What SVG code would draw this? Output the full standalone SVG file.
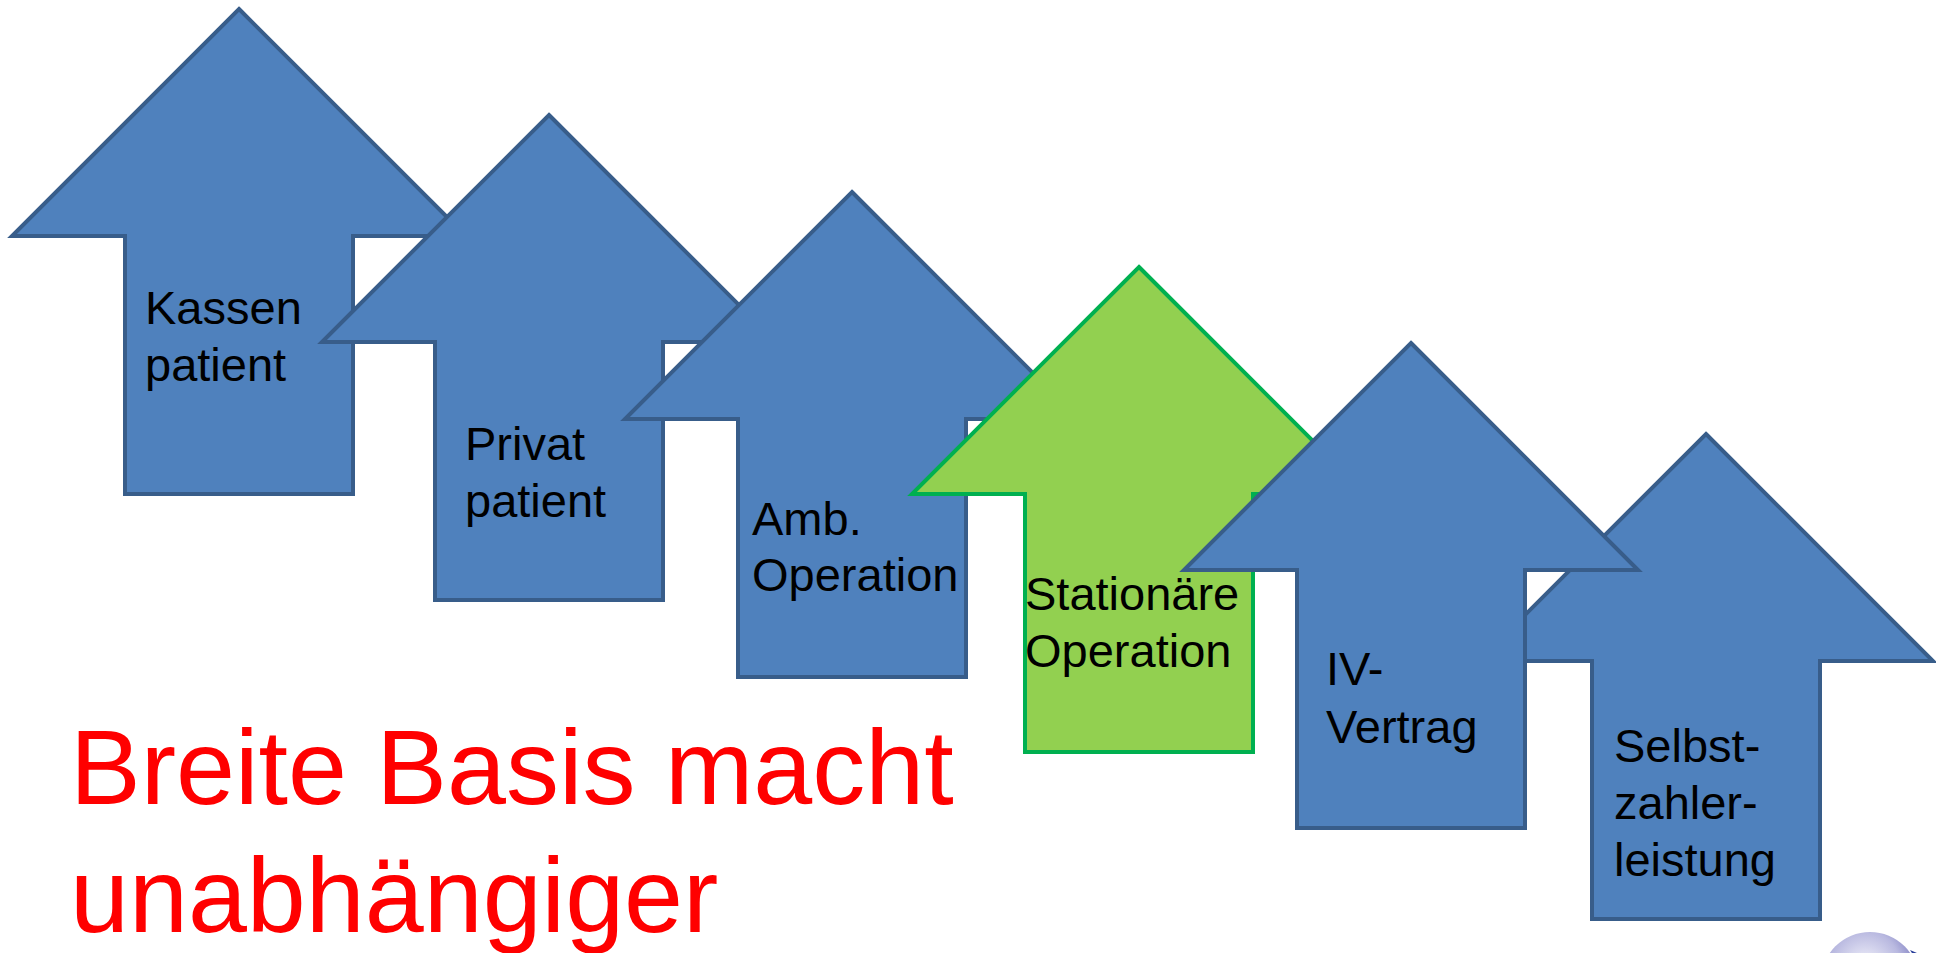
<svg xmlns="http://www.w3.org/2000/svg" width="1936" height="953" viewBox="0 0 1936 953">
  <style>
    .blue { fill: #4F81BD; stroke: #385D8A; stroke-width: 4; stroke-linejoin: miter; }
    .green { fill: #92D050; stroke: #00B050; stroke-width: 4; stroke-linejoin: miter; }
    .lbl { font-family: "Liberation Sans", Arial, sans-serif; font-size: 47px; fill: #000000; }
    .title { font-family: "Liberation Sans", Arial, sans-serif; font-size: 106px; fill: #FF0000; }
  </style>
  <defs>
    <radialGradient id="sphere" cx="0.45" cy="0.35" r="0.6">
      <stop offset="0" stop-color="#F4F4FC"/>
      <stop offset="0.6" stop-color="#B9B9E0"/>
      <stop offset="1" stop-color="#6F6FB8"/>
    </radialGradient>
  </defs>
  <rect x="0" y="0" width="1936" height="953" fill="#FFFFFF"/>

  <g id="arrow-kassenpatient">
    <polygon class="blue" points="239,9 466,236 353,236 353,494 125,494 125,236 12,236"/>
    <text class="lbl" x="145" y="324"><tspan x="145" y="324">Kassen</tspan><tspan x="145" y="381">patient</tspan></text>
  </g>
  <g id="arrow-privatpatient">
    <polygon class="blue" points="549,115 776,342 663,342 663,600 435,600 435,342 322,342"/>
    <text class="lbl"><tspan x="465" y="460">Privat</tspan><tspan x="465" y="517">patient</tspan></text>
  </g>
  <g id="arrow-amb-operation">
    <polygon class="blue" points="852,192 1079,419 966,419 966,677 738,677 738,419 625,419"/>
    <text class="lbl"><tspan x="752" y="535">Amb.</tspan><tspan x="752" y="591">Operation</tspan></text>
  </g>
  <g id="arrow-stationaere-operation">
    <polygon class="green" points="1139,267 1366,494 1253,494 1253,752 1025,752 1025,494 912,494"/>
    <text class="lbl"><tspan x="1025" y="610">Stationäre</tspan><tspan x="1025" y="667">Operation</tspan></text>
  </g>
  <g id="arrow-selbstzahlerleistung">
    <polygon class="blue" points="1706,434 1933,661 1820,661 1820,919 1592,919 1592,661 1479,661"/>
    <text class="lbl"><tspan x="1614" y="762">Selbst-</tspan><tspan x="1614" y="819">zahler-</tspan><tspan x="1614" y="876">leistung</tspan></text>
  </g>
  <g id="arrow-iv-vertrag">
    <polygon class="blue" points="1411,343 1638,570 1525,570 1525,828 1297,828 1297,570 1184,570"/>
    <text class="lbl"><tspan x="1326" y="685">IV-</tspan><tspan x="1326" y="743">Vertrag</tspan></text>
  </g>

  <g id="connectors"></g>

  <text class="title"><tspan x="70" y="804">Breite Basis macht</tspan><tspan x="70" y="932">unabhängiger</tspan></text>

  <g id="logo">
    <circle cx="1870" cy="981" r="49" fill="url(#sphere)"/>
    <path d="M1910,950 A49,49 0 0 1 1917,965 L1917,953 Z" fill="#2A3F9A"/>
  </g>
</svg>
